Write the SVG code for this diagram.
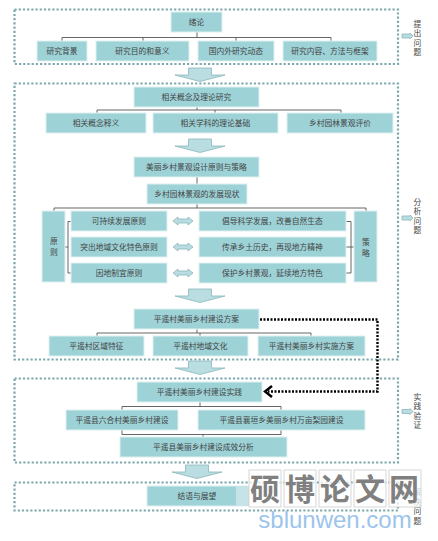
<svg xmlns="http://www.w3.org/2000/svg" width="438" height="541" viewBox="0 0 438 541">
<defs>
<style>
.f{fill:none;stroke:#7fa8ac;stroke-width:2.200;stroke-dasharray:2.200 2}
.n rect{fill:#9dd2d7;stroke:#dff0f1;stroke-width:1}
text{font-family:"Noto Sans CJK SC","Noto Sans CJK TC",sans-serif;font-size:7.750px;fill:#444;text-anchor:middle}
.c path{fill:none;stroke:#555;stroke-width:.9}
.a{fill:#b9dde1;stroke:#8ab6ba;stroke-width:.8}
.w{font-size:30px;fill:#808080;font-weight:700}
.b{fill:#fff;fill-opacity:.72;stroke:#ccc;stroke-width:.8}
</style>
<path id="dn" class="a" d="M-11.500 0H11.500V7H25L0 13.500L-25 7H-11.500Z"/>
<path id="dbl" class="a" d="M-10 0L-5 -4V-2H5V-4L10 0L5 4V2H-5V4Z"/>
<path id="rt" class="a" d="M0 -2H8V-3L11 0L8 3V2H0Z"/>
</defs>
<rect width="438" height="541" fill="#fff"/>
<g id="frames">
<rect class="f" x="14.500" y="9.500" width="383.500" height="54.500"/>
<rect class="f" x="14.500" y="83.500" width="383.500" height="276"/>
<rect class="f" x="14.500" y="378.500" width="383.500" height="84"/>
<rect class="f" x="14.500" y="482.500" width="383.500" height="28"/>
</g>
<g id="connectors" class="c">
<path d="M197 32V37M62 41V37.500H331V41M143 37.500V41M236 37.500V41"/>
<path d="M197 107V110M97 113V110H341V113M215 110V113"/>
<path d="M197 177V184"/>
<path d="M197 204V208M54 211V208H366V211"/>
<path d="M71 221.500H68V273H71M65 247H68"/>
<path d="M346 221.500H351V273H346M346 247H354"/>
<path d="M197 329V333M97 336V333H311V336M200 333V336"/>
<path d="M200 402V406.500M122 410V406.500H281V410"/>
<path d="M122 430V434.500H281V430M203 434.500V437"/>
<path d="M260 319.500H377.500V391.500H268" style="stroke:#000;stroke-width:2.400;stroke-dasharray:2 1.500"/>
<path d="M272 386L265 391.500L272 397" style="stroke:#000;stroke-width:2.400"/>
</g>
<g id="arrows">
<use href="#dn" x="200" y="68"/>
<use href="#dn" x="200" y="139"/>
<use href="#dn" x="200" y="289"/>
<use href="#dn" x="200" y="361"/>
<use href="#dn" x="197" y="465"/>
<use href="#dbl" x="183" y="221"/>
<use href="#dbl" x="183" y="247"/>
<use href="#dbl" x="183" y="273"/>
<use href="#rt" x="402" y="36"/>
<use href="#rt" x="402" y="218"/>
<use href="#rt" x="402" y="411.500"/>
<use href="#rt" x="402" y="496"/>
</g>
<g id="n1" class="n"><rect x="171" y="12" width="51" height="20"/><text x="196.500" y="24.800">绪论</text></g>
<g id="n2" class="n"><rect x="37" y="41" width="50" height="20"/><text x="62" y="53.800">研究背景</text></g>
<g id="n3" class="n"><rect x="96" y="41" width="93" height="20"/><text x="142.500" y="53.800">研究目的和意义</text></g>
<g id="n4" class="n"><rect x="198" y="41" width="76" height="20"/><text x="236" y="53.800">国内外研究动态</text></g>
<g id="n5" class="n"><rect x="283" y="41" width="94" height="20"/><text x="330" y="53.800">研究内容、方法与框架</text></g>
<g id="n6" class="n"><rect x="134" y="87" width="125" height="20"/><text x="196.500" y="99.800">相关概念及理论研究</text></g>
<g id="n7" class="n"><rect x="46" y="113" width="100" height="20"/><text x="96" y="125.800">相关概念释义</text></g>
<g id="n8" class="n"><rect x="153" y="113" width="125" height="20"/><text x="215.500" y="125.800">相关学科的理论基础</text></g>
<g id="n9" class="n"><rect x="287" y="113" width="106" height="20"/><text x="340" y="125.800">乡村园林景观评价</text></g>
<g id="n10" class="n"><rect x="134" y="157" width="125" height="20"/><text x="196.500" y="169.800">美丽乡村景观设计原则与策略</text></g>
<g id="n11" class="n"><rect x="147" y="184" width="100" height="20"/><text x="197" y="196.800">乡村园林景观的发展现状</text></g>
<g id="n12" class="n"><rect x="42" y="211" width="23" height="71"/><text x="54" y="244">原</text><text x="54" y="255">则</text></g>
<g id="n13" class="n"><rect x="71" y="211" width="96" height="20"/><text x="119" y="223.800">可持续发展原则</text></g>
<g id="n14" class="n"><rect x="71" y="237" width="96" height="20"/><text x="119" y="249.800">突出地域文化特色原则</text></g>
<g id="n15" class="n"><rect x="71" y="263" width="96" height="20"/><text x="119" y="275.800">因地制宜原则</text></g>
<g id="n16" class="n"><rect x="199" y="211" width="147" height="20"/><text x="272.500" y="223.800">倡导科学发展，改善自然生态</text></g>
<g id="n17" class="n"><rect x="199" y="237" width="147" height="20"/><text x="272.500" y="249.800">传承乡土历史，再现地方精神</text></g>
<g id="n18" class="n"><rect x="199" y="263" width="147" height="20"/><text x="272.500" y="275.800">保护乡村景观，延续地方特色</text></g>
<g id="n19" class="n"><rect x="354" y="211" width="23" height="71"/><text x="366" y="245">策</text><text x="366" y="256">略</text></g>
<g id="n20" class="n"><rect x="134" y="309" width="125" height="20"/><text x="196.500" y="321.800">平遥村美丽乡村建设方案</text></g>
<g id="n21" class="n"><rect x="49" y="336" width="95" height="20"/><text x="96.500" y="348.800">平遥村区域特征</text></g>
<g id="n22" class="n"><rect x="153" y="336" width="95" height="20"/><text x="200.500" y="348.800">平遥村地域文化</text></g>
<g id="n23" class="n"><rect x="258" y="336" width="107" height="20"/><text x="311.500" y="348.800">平遥村美丽乡村实施方案</text></g>
<g id="n24" class="n"><rect x="137" y="382" width="125" height="20"/><text x="199.500" y="394.800">平遥村美丽乡村建设实践</text></g>
<g id="n25" class="n"><rect x="66" y="410" width="112" height="20"/><text x="122" y="422.800">平遥县六合村美丽乡村建设</text></g>
<g id="n26" class="n"><rect x="198" y="410" width="167" height="20"/><text x="281.500" y="422.800">平遥县襄垣乡美丽乡村万亩梨园建设</text></g>
<g id="n27" class="n"><rect x="120" y="437" width="167" height="20"/><text x="203.500" y="449.800">平遥县美丽乡村建设成效分析</text></g>
<g id="n28" class="n"><rect x="147" y="486" width="100" height="20"/><text x="197" y="498.800">结语与展望</text></g>
<g id="side">
<text x="417.500" y="26.500">提</text><text x="417.500" y="36">出</text><text x="417.500" y="45.500">问</text><text x="417.500" y="55">题</text>
<text x="417.500" y="204.500">分</text><text x="417.500" y="214">析</text><text x="417.500" y="223.500">问</text><text x="417.500" y="233">题</text>
<text x="417.500" y="399.500">实</text><text x="417.500" y="409">践</text><text x="417.500" y="418.500">验</text><text x="417.500" y="428">证</text>
<text x="417.500" y="495">解</text><text x="417.500" y="504.500">决</text><text x="417.500" y="514">问</text><text x="417.500" y="523.500">题</text>
</g>
<g id="watermark">
<rect x="236" y="486" width="13" height="20" fill="#c6e4e7"/>
<rect class="b" x="249" y="470" width="32" height="37"/><rect class="b" x="284" y="470" width="32" height="37"/><rect class="b" x="319" y="470" width="32" height="37"/><rect class="b" x="354" y="470" width="32" height="37"/><rect class="b" x="389" y="470" width="32" height="37"/>
<text class="w" x="265" y="500">硕</text><text class="w" x="300" y="500">博</text><text class="w" x="335" y="500">论</text><text class="w" x="370" y="500">文</text><text class="w" x="404" y="500">网</text>
<text x="335" y="528" style="font-family:'Liberation Sans',sans-serif;font-size:24px;fill:#9cc4ec">sblunwen.com</text>
</g>
</svg>
